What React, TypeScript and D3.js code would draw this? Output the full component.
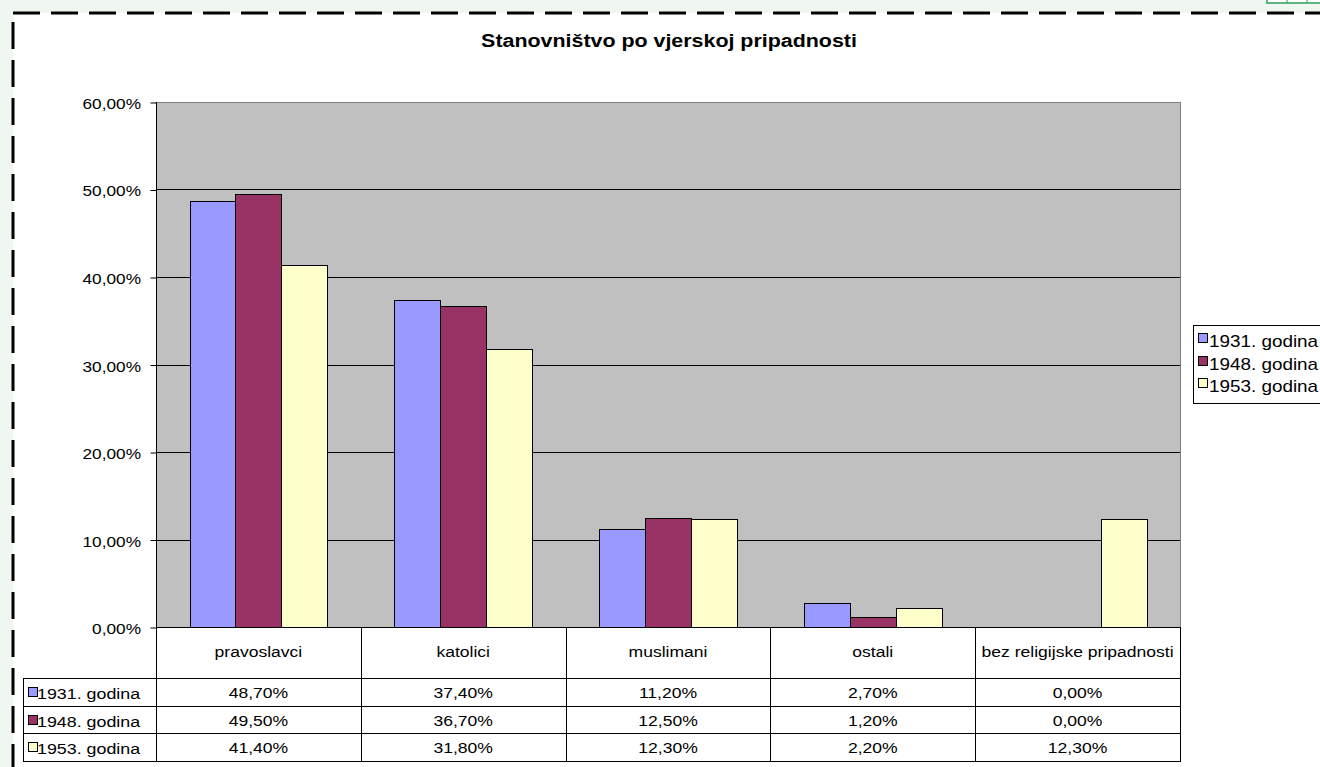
import React, { useRef, useEffect } from "react";
import * as d3 from "d3";

const categories = ["pravoslavci", "katolici", "muslimani", "ostali", "bez religijske pripadnosti"];
const seriesNames = ["1931. godina", "1948. godina", "1953. godina"];
const values1931 = [48.7, 37.4, 11.2, 2.7, 0.0];
const values1948 = [49.5, 36.7, 12.5, 1.2, 0.0];
const values1953 = [41.4, 31.8, 12.3, 2.2, 12.3];
const yTicks = [0, 10, 20, 30, 40, 50, 60];
const colors = ["#9999FF", "#993366", "#FFFFCC"];

const fmt = (v: number) => v.toFixed(2).replace(".", ",") + "%";

const App: React.FC = () => {
  const svgRef = useRef<SVGSVGElement>(null);

  useEffect(() => {
    if (!svgRef.current) return;
    const W = 1320, H = 767;
    const plot = { left: 156, right: 1180, top: 102, bottom: 627 };
    const rowY = [627, 678, 706, 733, 761];
    const font = "'Liberation Sans', Arial, sans-serif";
    const series = [values1931, values1948, values1953];

    const svg = d3.select(svgRef.current);
    svg.selectAll("*").remove();

    // the source text is rendered a bit wide, so stretch it horizontally
    const label = (
      parent: d3.Selection<any, unknown, null, undefined>,
      x: number, y: number, txt: string, size: number, sx: number,
      anchor = "start", bold = false
    ) =>
      parent.append("text")
        .attr("transform", `translate(${x},${y}) scale(${sx},1)`)
        .attr("text-anchor", anchor)
        .style("font-family", font)
        .style("font-size", `${size}px`)
        .style("font-weight", bold ? "bold" : "normal")
        .attr("fill", "#000")
        .text(txt);

    // page background + dashed chart border
    svg.append("rect").attr("width", W).attr("height", H).attr("fill", "#f0f7f1");
    svg.append("rect")
      .attr("x", 13).attr("y", 13).attr("width", W + 20).attr("height", H + 20)
      .attr("fill", "#ffffff")
      .attr("stroke", "#000").attr("stroke-width", 3)
      .attr("stroke-dasharray", "27 11");

    // small green sheet icon at the top right
    const icon = svg.append("g");
    icon.append("rect").attr("x", 1267).attr("y", -10).attr("width", 60).attr("height", 13)
      .attr("fill", "#ffffff").attr("stroke", "#2aa05a").attr("stroke-width", 1.5);
    [1287, 1307].forEach((x) =>
      icon.append("line").attr("x1", x).attr("x2", x).attr("y1", -10).attr("y2", 3)
        .attr("stroke", "#2aa05a").attr("stroke-width", 1));

    // title
    label(svg as any, 669, 47, "Stanovništvo po vjerskoj pripadnosti", 18, 1.19, "middle", true);

    const x0 = d3.scaleBand<string>().domain(categories).range([plot.left, plot.right]).paddingInner(0).paddingOuter(0);
    const x1 = d3.scaleBand<string>().domain(seriesNames).range([0, x0.bandwidth()]).paddingInner(0).paddingOuter(0.73);
    const y = d3.scaleLinear().domain([0, 60]).range([plot.bottom, plot.top]);

    // plot area
    svg.append("rect")
      .attr("x", plot.left + 0.5).attr("y", plot.top + 0.5)
      .attr("width", plot.right - plot.left).attr("height", plot.bottom - plot.top)
      .attr("fill", "#C0C0C0").attr("stroke", "#808080").attr("stroke-width", 1);

    // grid lines
    svg.append("g").selectAll("line")
      .data(yTicks.filter((t) => t > 0 && t < 60))
      .join("line")
      .attr("x1", plot.left).attr("x2", plot.right)
      .attr("y1", (d) => Math.round(y(d)) + 0.5).attr("y2", (d) => Math.round(y(d)) + 0.5)
      .attr("stroke", "#000").attr("stroke-width", 1);

    // y axis ticks
    const yAxis = svg.append("g")
      .attr("transform", `translate(${plot.left + 0.5},0.5)`)
      .call(d3.axisLeft(y).tickValues(yTicks).tickSize(6).tickFormat(() => ""));
    yAxis.select(".domain").remove();
    yAxis.selectAll("line").attr("stroke", "#000");
    const yl = svg.append("g");
    yTicks.forEach((t) => label(yl as any, 141, Math.round(y(t)) + 7, fmt(t), 15, 1.15, "end"));

    // bars
    series.forEach((vals, si) => {
      svg.append("g").selectAll("rect")
        .data(vals.map((v, ci) => ({ v, c: categories[ci] })).filter((d) => d.v > 0))
        .join("rect")
        .attr("x", (d) => Math.round(x0(d.c)! + x1(seriesNames[si])!) + 0.5)
        .attr("y", (d) => Math.round(y(d.v)) + 0.5)
        .attr("width", Math.round(x1.bandwidth()))
        .attr("height", (d) => Math.round(y(0)) - Math.round(y(d.v)))
        .attr("fill", colors[si])
        .attr("stroke", "#000").attr("stroke-width", 1);
    });

    // data table grid
    const t = svg.append("g").attr("stroke", "#000").attr("stroke-width", 1);
    rowY.forEach((ry, i) => {
      t.append("line")
        .attr("x1", i === 0 ? plot.left : 23).attr("x2", plot.right + 1)
        .attr("y1", ry + 0.5).attr("y2", ry + 0.5);
    });
    t.append("line").attr("x1", plot.left + 0.5).attr("x2", plot.left + 0.5)
      .attr("y1", plot.top).attr("y2", rowY[4] + 1);
    t.append("line").attr("x1", 23.5).attr("x2", 23.5).attr("y1", rowY[1]).attr("y2", rowY[4] + 1);
    categories.forEach((c) => {
      const xr = Math.round(x0(c)! + x0.bandwidth()) + 0.5;
      t.append("line").attr("x1", xr).attr("x2", xr).attr("y1", rowY[0]).attr("y2", rowY[4] + 1);
    });

    // data table text
    const tt = svg.append("g");
    categories.forEach((c) => {
      label(tt as any, x0(c)! + x0.bandwidth() / 2, (rowY[0] + rowY[1]) / 2 + 4, c, 15, 1.17, "middle");
    });
    series.forEach((vals, si) => {
      const cy = (rowY[si + 1] + rowY[si + 2]) / 2;
      tt.append("rect").attr("x", 28.5).attr("y", Math.round(cy) - 4.5).attr("width", 9).attr("height", 9)
        .attr("fill", colors[si]).attr("stroke", "#000").attr("stroke-width", 1);
      label(tt as any, 37, cy + 7, seriesNames[si], 15, 1.19);
      vals.forEach((v, ci) => {
        label(tt as any, x0(categories[ci])! + x0.bandwidth() / 2, cy + 6, fmt(v), 15, 1.17, "middle");
      });
    });

    // legend
    const lg = svg.append("g");
    lg.append("rect").attr("x", 1193.5).attr("y", 325.5).attr("width", 140).attr("height", 78)
      .attr("fill", "#fff").attr("stroke", "#000").attr("stroke-width", 1);
    seriesNames.forEach((s, i) => {
      const by = 347 + i * 22.5;
      lg.append("rect").attr("x", 1198.5).attr("y", Math.round(by) - 13.5).attr("width", 9).attr("height", 9)
        .attr("fill", colors[i]).attr("stroke", "#000").attr("stroke-width", 1);
      label(lg as any, 1209, by, s, 16, 1.18);
    });
  }, []);

  return (
    <svg
      ref={svgRef}
      width={1320}
      height={767}
      style={{ position: "absolute", left: 0, top: 0, display: "block" }}
    />
  );
};

export default App;
